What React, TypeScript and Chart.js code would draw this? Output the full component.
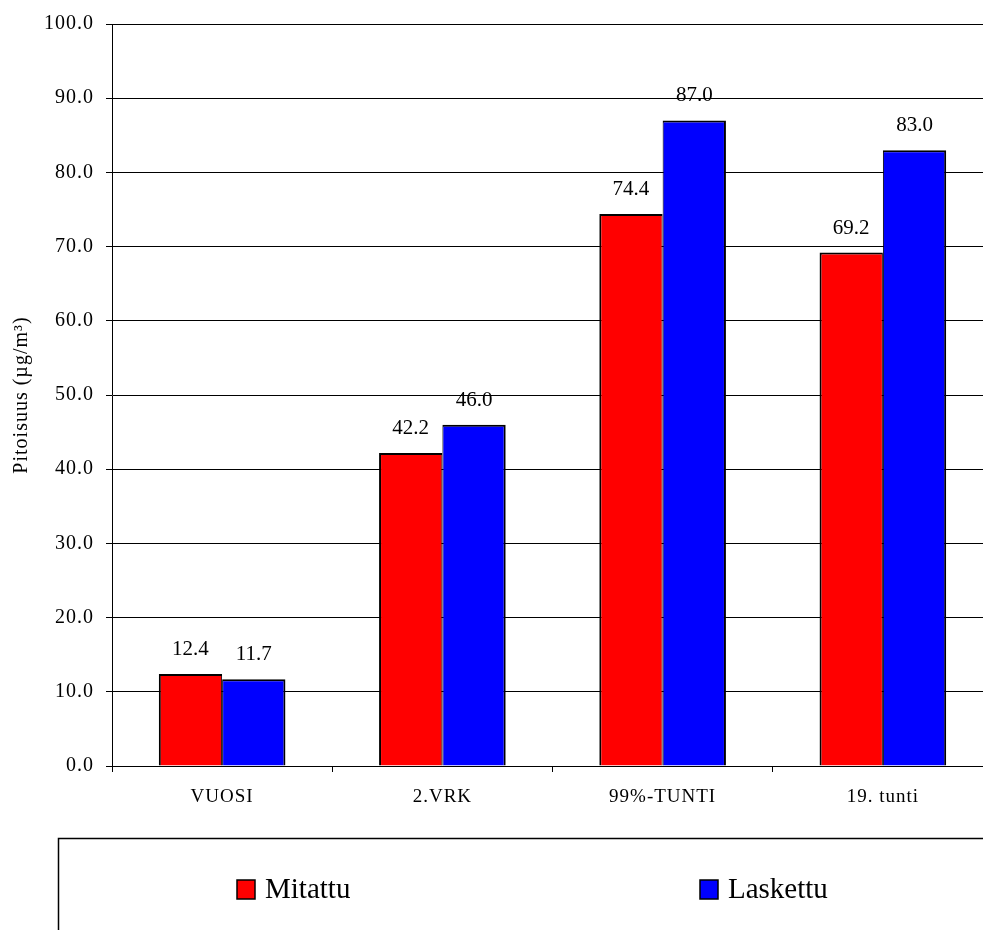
import React, { useEffect, useRef } from "react";
import { Chart, registerables } from "chart.js";

Chart.register(...registerables);

const categories = ["VUOSI", "2.VRK", "99%-TUNTI", "19. tunti"];
const mitattu = [12.4, 42.2, 74.4, 69.2];
const laskettu = [11.7, 46.0, 87.0, 83.0];
const seriesNames = ["Mitattu", "Laskettu"];
const seriesColors = ["#FF0000", "#0000FF"];
const yTitle = "Pitoisuus (µg/m³)";
const yMin = 0;
const yMax = 100;
const yStep = 10;

const FONT = '"Liberation Serif", "Times New Roman", Times, serif';

const spacingPlugin = {
  id: "spacing",
  beforeDraw(chart: any) {
    (chart.ctx as any).letterSpacing = "1px";
  },
};

const valueLabelPlugin = {
  id: "valueLabels",
  afterDatasetsDraw(chart: any) {
    const ctx = chart.ctx;
    ctx.save();
    (ctx as any).letterSpacing = "0px";
    ctx.font = `21px ${FONT}`;
    ctx.fillStyle = "#000";
    ctx.textAlign = "center";
    ctx.textBaseline = "alphabetic";
    chart.data.datasets.forEach((ds: any, i: number) => {
      const meta = chart.getDatasetMeta(i);
      meta.data.forEach((el: any, j: number) => {
        const v = ds.data[j] as number;
        ctx.fillText(v.toFixed(1), el.x, el.y - 19);
      });
    });
    ctx.restore();
  },
};

const legendPlugin = {
  id: "boxLegend",
  afterDraw(chart: any) {
    const ctx = chart.ctx;
    ctx.save();
    (ctx as any).letterSpacing = "0px";
    ctx.strokeStyle = "#000";
    ctx.lineWidth = 1.5;
    ctx.beginPath();
    ctx.moveTo(58.5, 1000);
    ctx.lineTo(58.5, 838.5);
    ctx.lineTo(1100, 838.5);
    ctx.stroke();
    const items = [
      { x: 237, label: seriesNames[0], color: seriesColors[0] },
      { x: 700, label: seriesNames[1], color: seriesColors[1] },
    ];
    items.forEach((it) => {
      ctx.fillStyle = it.color;
      ctx.fillRect(it.x, 880, 18, 19);
      ctx.lineWidth = 1.5;
      ctx.strokeStyle = "#000";
      ctx.strokeRect(it.x, 880, 18, 19);
      ctx.fillStyle = "#000";
      ctx.font = `29px ${FONT}`;
      ctx.textAlign = "left";
      ctx.textBaseline = "alphabetic";
      ctx.fillText(it.label, it.x + 28, 898);
    });
    ctx.restore();
  },
};

export default function App() {
  const ref = useRef<HTMLCanvasElement | null>(null);

  useEffect(() => {
    if (!ref.current) return;
    const chart = new Chart(ref.current, {
      type: "bar",
      data: {
        labels: categories,
        datasets: [
          {
            label: seriesNames[0],
            data: mitattu,
            backgroundColor: seriesColors[0],
            borderColor: "#000",
            borderWidth: { top: 2, left: 2, right: 1, bottom: 0 },
            borderSkipped: false,
          },
          {
            label: seriesNames[1],
            data: laskettu,
            backgroundColor: seriesColors[1],
            borderColor: "#000",
            borderWidth: { top: 2, left: 1, right: 2, bottom: 0 },
            borderSkipped: false,
          },
        ],
      },
      options: {
        responsive: false,
        animation: false,
        devicePixelRatio: 1,
        layout: { padding: { top: 23, right: 7, left: 0, bottom: 0 } },
        plugins: {
          legend: { display: false },
          tooltip: { enabled: false },
        },
        datasets: {
          bar: { categoryPercentage: 0.575, barPercentage: 1 },
        },
        scales: {
          x: {
            grid: {
              display: true,
              drawOnChartArea: false,
              drawTicks: true,
              tickLength: 6,
              color: "#000",
              offset: true,
            },
            border: { display: true, color: "#000", width: 1 },
            ticks: {
              color: "#000",
              font: { family: FONT, size: 19 },
              padding: 14,
              maxRotation: 0,
            },
            afterFit: (s: any) => {
              s.height = 194;
            },
          },
          y: {
            min: yMin,
            max: yMax,
            ticks: {
              stepSize: yStep,
              color: "#000",
              font: { family: FONT, size: 20 },
              padding: 12,
              callback: (v: any) => Number(v).toFixed(1),
            },
            grid: { color: "#000", tickLength: 6, drawTicks: true, lineWidth: 1 },
            border: { display: true, color: "#000", width: 1 },
            title: {
              display: true,
              text: yTitle,
              color: "#000",
              font: { family: FONT, size: 20 },
              padding: { top: 10, bottom: 0 },
            },
            afterFit: (s: any) => {
              s.width = 112;
            },
          },
        },
      },
      plugins: [spacingPlugin, valueLabelPlugin, legendPlugin],
    });
    return () => chart.destroy();
  }, []);

  return (
    <div
      style={{
        position: "absolute",
        left: 0,
        top: 0,
        width: 983,
        height: 930,
        overflow: "hidden",
        background: "#fff",
      }}
    >
      <canvas ref={ref} width={1000} height={960} style={{ display: "block" }} />
    </div>
  );
}
